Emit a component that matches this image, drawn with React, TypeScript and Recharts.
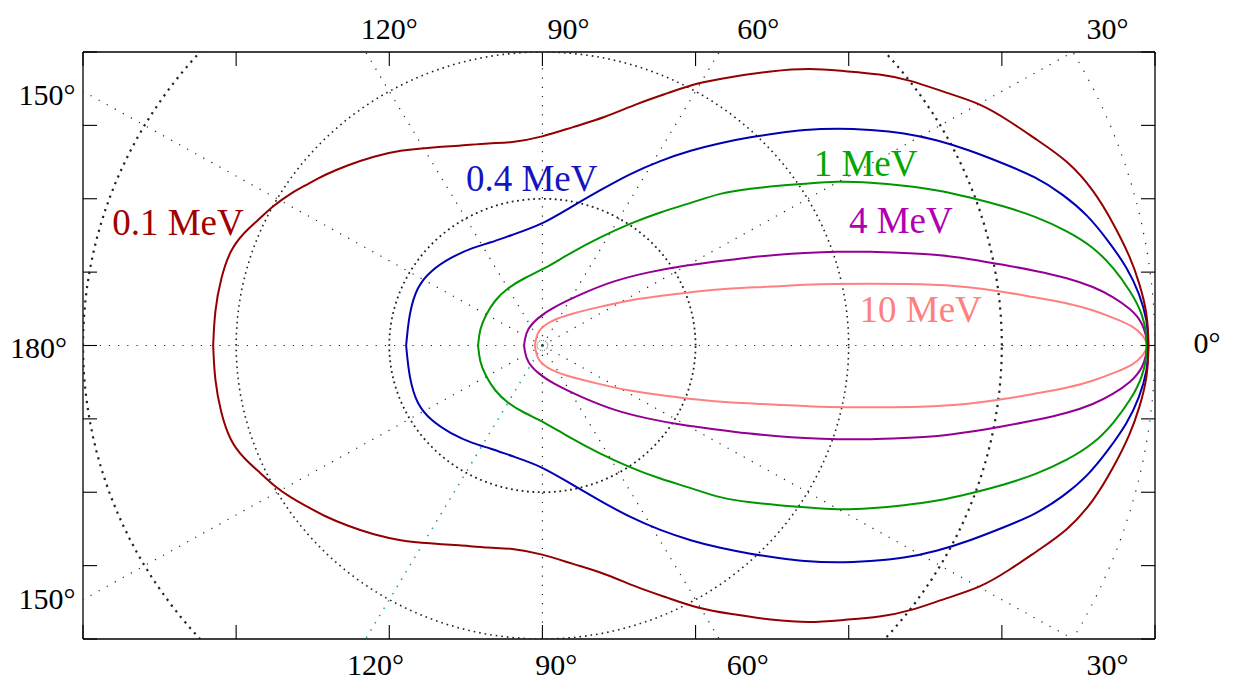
import { ScatterChart, Scatter, XAxis, YAxis, ReferenceDot } from "recharts";

// upper half of each lobe, read from the back end (180°) round to the tip (0°)
const mev01X = [-2.15, -2.14, -2.10, -2.04, -1.95, -1.84, -1.76, -1.64, -1.53, -1.43, -1.27, -1.10, -0.93, -0.73, -0.55, -0.34, -0.21, 0, 0.20, 0.40, 0.62, 0.82, 1.01, 1.23, 1.49, 1.75, 1.96, 2.21, 2.40, 2.64, 2.86, 3.05, 3.23, 3.43, 3.60, 3.73, 3.84, 3.90, 3.95, 3.96];
const mev01Y = [0, 0.24, 0.46, 0.65, 0.77, 0.87, 0.95, 1.04, 1.10, 1.16, 1.23, 1.29, 1.33, 1.35, 1.36, 1.38, 1.38, 1.42, 1.49, 1.55, 1.65, 1.72, 1.79, 1.83, 1.87, 1.89, 1.87, 1.85, 1.81, 1.72, 1.65, 1.53, 1.40, 1.26, 1.06, 0.83, 0.60, 0.42, 0.22, 0];

const mev04X = [-0.89, -0.87, -0.82, -0.73, -0.60, -0.45, -0.34, -0.21, -0.01, 0.18, 0.38, 0.57, 0.77, 0.97, 1.16, 1.36, 1.55, 1.70, 1.93, 2.14, 2.36, 2.58, 2.79, 3.01, 3.22, 3.40, 3.56, 3.69, 3.82, 3.90, 3.95, 3.96];
const mev04Y = [0, 0.22, 0.40, 0.51, 0.60, 0.67, 0.70, 0.75, 0.82, 0.94, 1.06, 1.17, 1.26, 1.33, 1.38, 1.42, 1.45, 1.47, 1.48, 1.47, 1.45, 1.40, 1.33, 1.24, 1.15, 1.03, 0.89, 0.72, 0.53, 0.35, 0.17, 0];

const mev1X = [-0.42, -0.41, -0.37, -0.31, -0.23, -0.12, 0.01, 0.18, 0.38, 0.57, 0.77, 0.97, 1.16, 1.36, 1.55, 1.70, 1.93, 2.14, 2.36, 2.58, 2.79, 3.01, 3.22, 3.43, 3.60, 3.73, 3.84, 3.92, 3.96];
const mev1Y = [0, 0.11, 0.21, 0.31, 0.39, 0.46, 0.52, 0.63, 0.74, 0.83, 0.91, 0.97, 1.04, 1.07, 1.09, 1.10, 1.12, 1.11, 1.09, 1.06, 1.01, 0.95, 0.88, 0.78, 0.67, 0.53, 0.37, 0.22, 0];

const mev4X = [-0.12, -0.115, -0.10, -0.03, 0.07, 0.25, 0.46, 0.69, 0.90, 1.12, 1.34, 1.55, 1.70, 1.93, 2.14, 2.36, 2.58, 2.79, 3.01, 3.22, 3.43, 3.60, 3.73, 3.84, 3.92, 3.96];
const mev4Y = [0, 0.04, 0.11, 0.19, 0.26, 0.35, 0.44, 0.50, 0.54, 0.57, 0.60, 0.62, 0.63, 0.64, 0.64, 0.63, 0.62, 0.59, 0.55, 0.51, 0.46, 0.40, 0.33, 0.25, 0.16, 0];

const mev10X = [-0.05, -0.04, -0.03, 0.05, 0.20, 0.36, 0.57, 0.79, 1.01, 1.23, 1.49, 1.81, 2.14, 2.47, 2.79, 3.05, 3.20, 3.43, 3.60, 3.75, 3.86, 3.92, 3.96];
const mev10Y = [0, 0.05, 0.10, 0.17, 0.22, 0.26, 0.31, 0.34, 0.37, 0.39, 0.40, 0.42, 0.42, 0.42, 0.40, 0.36, 0.33, 0.29, 0.24, 0.18, 0.13, 0.07, 0];

const energyLabels = ["0.1 MeV", "0.4 MeV", "1 MeV", "4 MeV", "10 MeV"];
const labelX = [-2.38, -0.07, 2.11, 2.34, 2.47];
const labelY = [0.845, 1.145, 1.247, 0.855, 0.252];

// polar guide lines
const circleRadii = [1, 2, 3, 4];
const spokeAngles = [0, 30, 60, 90, 120, 150, 180, 210, 270, 300, 330];
const cyanSpokeAngle = 240;

const xTicks = [-3, -2, -1, 0, 1, 2, 3, 4];
const yTicks = [-2, -1.5, -1, -0.5, 0, 0.5, 1, 1.5, 2];

const topAngleLabels = ["120°", "90°", "60°", "30°"];
const topAngleX = [-1.0, 0.17, 1.41, 3.69];
const bottomAngleX = [-1.09, 0.09, 1.34, 3.69];
const sideAngleLabels = ["150°", "180°", "150°"];
const sideAngleX = [-3.235, -3.29, -3.235];
const sideAngleY = [1.714, -0.01, -1.721];

type Pt = { x: number; y: number };

// the lobes are symmetric about the beam axis
const lobe = (xs: number[], ys: number[]): Pt[] => {
  const upper = xs.map((x, i) => ({ x, y: ys[i] }));
  const lower = upper
    .slice(0, -1)
    .reverse()
    .map((p) => ({ x: p.x, y: -p.y }));
  return [...upper, ...lower];
};

const circle = (r: number): Pt[] =>
  Array.from({ length: 181 }, (_, i) => {
    const a = (i * 2 * Math.PI) / 180;
    return { x: r * Math.cos(a), y: r * Math.sin(a) };
  });

const spoke = (deg: number): Pt[] => {
  const a = (deg * Math.PI) / 180;
  return [
    { x: 0, y: 0 },
    { x: 7 * Math.cos(a), y: 7 * Math.sin(a) },
  ];
};

const series = [
  { name: "10 MeV", xs: mev10X, ys: mev10Y, color: "#ff8080" },
  { name: "4 MeV", xs: mev4X, ys: mev4Y, color: "#930093" },
  { name: "1 MeV", xs: mev1X, ys: mev1Y, color: "#009600" },
  { name: "0.4 MeV", xs: mev04X, ys: mev04Y, color: "#0000b4" },
  { name: "0.1 MeV", xs: mev01X, ys: mev01Y, color: "#930000" },
];
const labelColors = ["#a00000", "#1414c0", "#00a800", "#b000b0", "#ff8080"];

const circleStyles = [
  { strokeWidth: 1.8, strokeDasharray: "1.8 3.6" },
  { strokeWidth: 1.6, strokeDasharray: "1.6 4" },
  { strokeWidth: 2.2, strokeDasharray: "2.2 5" },
  { strokeWidth: 1.2, strokeDasharray: "1.2 9" },
];

const font = "'Liberation Serif', 'Times New Roman', serif";
const noDot = () => null;
const noTick = () => <g />;
const blank = () => "";
const axisLine = { stroke: "#000", strokeWidth: 1.3 };
const tickLine = { stroke: "#000", strokeWidth: 1.1 };

export default function App() {
  return (
    <div
      style={{
        position: "absolute",
        left: 0,
        top: 0,
        width: 1234,
        height: 684,
        background: "#fff",
        fontFamily: font,
      }}
    >
      <ScatterChart
        width={1234}
        height={684}
        margin={{ top: 51, right: 78, bottom: 44, left: 82 }}
      >
        <XAxis
          type="number"
          dataKey="x"
          domain={[-3, 4]}
          ticks={xTicks}
          interval={0}
          allowDataOverflow
          height={1}
          tick={noTick}
          tickFormatter={blank}
          tickSize={-14}
          axisLine={axisLine}
          tickLine={tickLine}
        />
        <XAxis
          xAxisId="top"
          orientation="top"
          type="number"
          dataKey="x"
          domain={[-3, 4]}
          ticks={xTicks}
          interval={0}
          allowDataOverflow
          height={1}
          tick={noTick}
          tickFormatter={blank}
          tickSize={-14}
          axisLine={axisLine}
          tickLine={tickLine}
        />
        <YAxis
          type="number"
          dataKey="y"
          domain={[-2, 2]}
          ticks={yTicks}
          interval={0}
          allowDataOverflow
          width={1}
          tick={noTick}
          tickFormatter={blank}
          tickSize={-14}
          axisLine={axisLine}
          tickLine={tickLine}
        />
        <YAxis
          yAxisId="right"
          orientation="right"
          type="number"
          dataKey="y"
          domain={[-2, 2]}
          ticks={yTicks}
          interval={0}
          allowDataOverflow
          width={1}
          tick={noTick}
          tickFormatter={blank}
          tickSize={-14}
          axisLine={axisLine}
          tickLine={tickLine}
        />

        {spokeAngles.map((deg) => (
          <Scatter
            key={`spoke-${deg}`}
            data={spoke(deg)}
            line={{ stroke: "#222", strokeWidth: 1.2, strokeDasharray: "1.2 8" }}
            shape={noDot}
            legendType="none"
            isAnimationActive={false}
          />
        ))}
        <Scatter
          data={spoke(cyanSpokeAngle)}
          line={{ stroke: "#1a9c9c", strokeWidth: 1.5, strokeDasharray: "1.5 7" }}
          shape={noDot}
          legendType="none"
          isAnimationActive={false}
        />
        {circleRadii.map((r, i) => (
          <Scatter
            key={`circle-${r}`}
            data={circle(r)}
            line={{ stroke: "#222", ...circleStyles[i] }}
            shape={noDot}
            legendType="none"
            isAnimationActive={false}
          />
        ))}
        <Scatter
          data={circle(0.035)}
          line={{ stroke: "#222", strokeWidth: 1, strokeDasharray: "1 1.2" }}
          shape={noDot}
          legendType="none"
          isAnimationActive={false}
        />

        {series.map((s) => (
          <Scatter
            key={s.name}
            name={s.name}
            data={lobe(s.xs, s.ys)}
            line={{ stroke: s.color, strokeWidth: 2 }}
            lineJointType="basis"
            shape={noDot}
            legendType="none"
            isAnimationActive={false}
          />
        ))}

        {energyLabels.map((t, i) => (
          <ReferenceDot
            key={t}
            x={labelX[i]}
            y={labelY[i]}
            r={0}
            fill="none"
            stroke="none"
            ifOverflow="visible"
            label={{ value: t, position: "center", fill: labelColors[i], fontSize: 37, fontFamily: font }}
          />
        ))}
        {topAngleLabels.map((t, i) => (
          <ReferenceDot
            key={`top-${i}`}
            x={topAngleX[i]}
            y={2.164}
            r={0}
            fill="none"
            stroke="none"
            ifOverflow="visible"
            label={{ value: t, position: "center", fill: "#000", fontSize: 30, fontFamily: font }}
          />
        ))}
        {topAngleLabels.map((t, i) => (
          <ReferenceDot
            key={`bottom-${i}`}
            x={bottomAngleX[i]}
            y={-2.17}
            r={0}
            fill="none"
            stroke="none"
            ifOverflow="visible"
            label={{ value: t, position: "center", fill: "#000", fontSize: 30, fontFamily: font }}
          />
        ))}
        {sideAngleLabels.map((t, i) => (
          <ReferenceDot
            key={`side-${i}`}
            x={sideAngleX[i]}
            y={sideAngleY[i]}
            r={0}
            fill="none"
            stroke="none"
            ifOverflow="visible"
            label={{ value: t, position: "center", fill: "#000", fontSize: 30, fontFamily: font }}
          />
        ))}
        <ReferenceDot
          x={4.34}
          y={0.024}
          r={0}
          fill="none"
          stroke="none"
          ifOverflow="visible"
          label={{ value: "0°", position: "center", fill: "#000", fontSize: 30, fontFamily: font }}
        />
      </ScatterChart>
    </div>
  );
}
